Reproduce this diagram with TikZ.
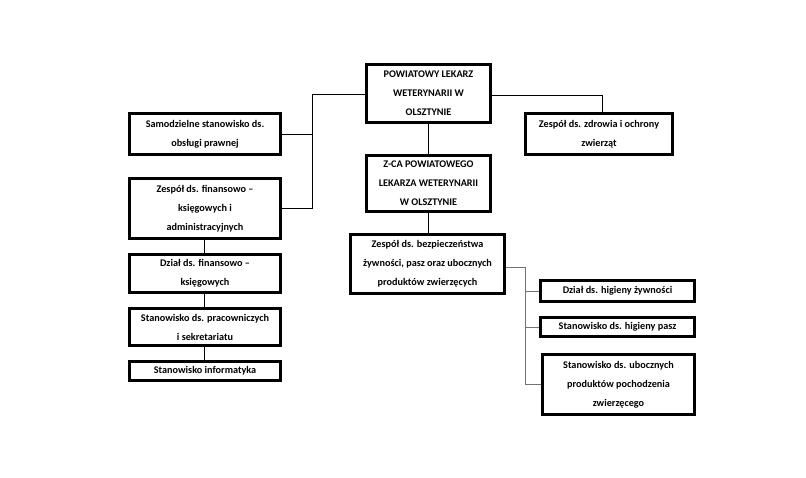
\documentclass[tikz,border=0pt]{standalone}
\usepackage{fontspec}
\setmainfont{Carlito}
\begin{document}
\begin{tikzpicture}[x=1pt,y=-1pt,
  bx/.style={draw, line width=2.6pt, align=center, inner sep=0pt,
    font=\bfseries\fontsize{10.2}{19}\selectfont},
  ln/.style={line width=0.9pt, black},
  gln/.style={line width=0.9pt, black!55}]
\useasboundingbox[fill=white] (0,0) rectangle (806,477);
\node[bx, minimum width=124pt, minimum height=58pt] (top) at (428.5,93.5) {POWIATOWY LEKARZ\\WETERYNARII W\\OLSZTYNIE};
\node[bx, minimum width=151pt, minimum height=41pt] (samo) at (205,134) {Samodzielne stanowisko ds.\\obsługi prawnej};
\node[bx, minimum width=151pt, minimum height=60pt] (fin) at (205,208.5) {Zespół ds. finansowo –\\księgowych i\\administracyjnych};
\node[bx, minimum width=151pt, minimum height=38pt] (dzfin) at (205,273.5) {Dział ds. finansowo –\\księgowych};
\node[bx, minimum width=151pt, minimum height=37pt] (prac) at (205,327) {Stanowisko ds. pracowniczych\\i sekretariatu};
\node[bx, minimum width=151pt, minimum height=19pt] (inf) at (205,371) {Stanowisko informatyka};
\node[bx, minimum width=124pt, minimum height=56pt] (zca) at (428.5,183.5) {Z-CA POWIATOWEGO\\LEKARZA WETERYNARII\\W OLSZTYNIE};
\node[bx, minimum width=147pt, minimum height=41pt] (zdr) at (599,134) {Zespół ds. zdrowia i ochrony\\zwierząt};
\node[bx, minimum width=154pt, minimum height=59pt] (bezp) at (427.5,264) {Zespół ds. bezpieczeństwa\\żywności, pasz oraz ubocznych\\produktów zwierzęcych};
\node[bx, minimum width=154pt, minimum height=21pt] (hig) at (617.5,291) {Dział ds. higieny żywności};
\node[bx, minimum width=154pt, minimum height=19pt] (pasz) at (617.5,327) {Stanowisko ds. higieny pasz};
\node[bx, minimum width=152pt, minimum height=60pt] (ub) at (618.5,384.5) {Stanowisko ds. ubocznych\\produktów pochodzenia\\zwierzęcego};
\coordinate (j1) at (312,94);
\coordinate (j2) at (602,95);
\coordinate (j3) at (525,267);
\draw[ln] (top.west |- j1) -- (j1) |- (fin.east);
\draw[ln] (samo.east) -- (samo.east -| j1);
\draw[ln] (top.east |- j2) -- (j2) -- (j2 |- zdr.north);
\draw[ln] (top.south) -- (zca.north);
\draw[ln] (zca.south) -- (zca.south |- bezp.north);
\draw[ln] (fin.south -| 204,0) -- (dzfin.north -| 204,0);
\draw[ln] (dzfin.south -| 204,0) -- (prac.north -| 204,0);
\draw[ln] (prac.south -| 204,0) -- (inf.north -| 204,0);
\draw[gln] (bezp.east |- j3) -- (j3) |- (ub.west);
\draw[gln] (hig.west) -- (hig.west -| j3);
\draw[gln] (pasz.west) -- (pasz.west -| j3);
\end{tikzpicture}
\end{document}
